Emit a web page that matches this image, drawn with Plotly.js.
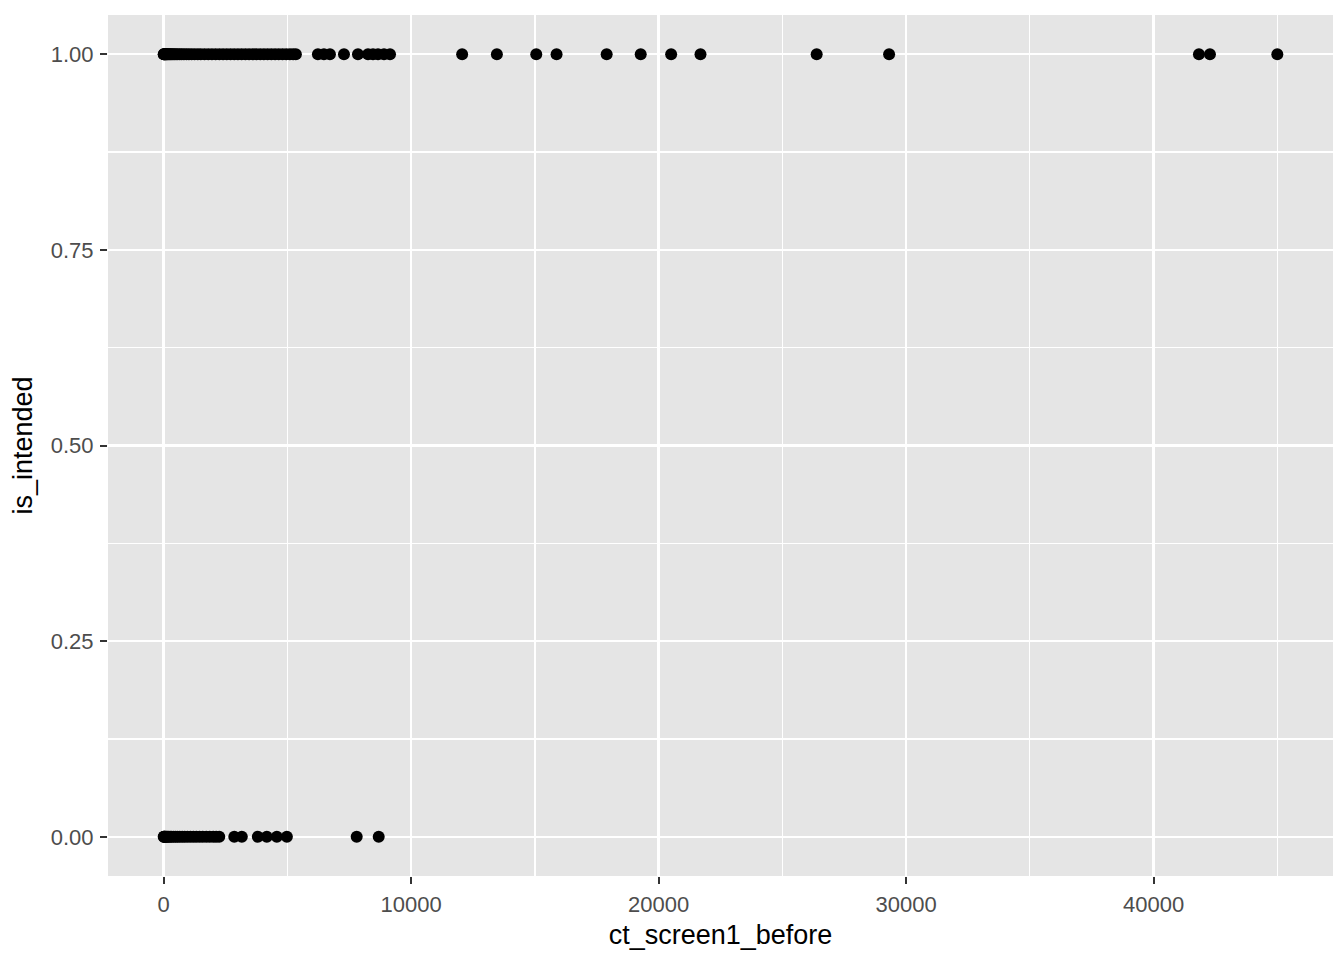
<!DOCTYPE html>
<html>
<head>
<meta charset="utf-8">
<script src="https://cdn.plot.ly/plotly-3.0.1.min.js"></script>
<style>
html,body{margin:0;padding:0;background:#fff;}
#chart{width:1344px;height:960px;}
</style>
</head>
<body>
<div id="chart"></div>
<script>
// ct_screen1_before values for rows with is_intended = 1
const ctIntended = [
  0,10,25,40,60,80,100,130,160,200,240,280,330,380,440,500,570,650,730,820,920,
  1020,1130,1250,1380,1500,1650,1800,1950,2100,2250,2400,2550,2700,2850,3000,
  3150,3300,3450,3600,3750,3900,4050,4200,4350,4500,4650,4800,4950,5100,5230,5342,
  6232,6475,6718,7285,7851,8256,8458,8661,8903,9146,
  12060,13464,15055,15876,17900,19276,20506,21692,26386,29312,
  41833,42278,45000
];
// ct_screen1_before values for rows with is_intended = 0
const ctNotIntended = [
  0,15,30,50,80,110,150,200,260,320,400,480,560,650,750,850,960,1080,1200,1320,
  1450,1580,1720,1860,2000,2120,2246,
  2853,3157,3804,4168,4573,4978,7799,8689
];
const isIntendedLevels = [1, 0];
const xTickVals = [0, 10000, 20000, 30000, 40000];
const xTickText = ["0", "10000", "20000", "30000", "40000"];
const yTickVals = [0, 0.25, 0.5, 0.75, 1];
const yTickText = ["0.00", "0.25", "0.50", "0.75", "1.00"];

const allX = ctIntended.concat(ctNotIntended);
const ys = ctIntended.map(() => isIntendedLevels[0]).concat(ctNotIntended.map(() => isIntendedLevels[1]));

const xmin = Math.min(...allX), xmax = Math.max(...allX);
const xpad = (xmax - xmin) * 0.05;
const ypad = 0.05;

const trace = {
  type: 'scatter', mode: 'markers',
  x: allX, y: ys,
  marker: {color: '#000000', size: 12, line: {width: 0}},
  hoverinfo: 'x+y'
};

const axisFont = {family: 'Liberation Sans, Arial, sans-serif', size: 22, color: '#4d4d4d'};
const titleFont = {family: 'Liberation Sans, Arial, sans-serif', size: 27, color: '#000000'};

const layout = {
  width: 1344, height: 960,
  margin: {l: 108, r: 11, t: 15, b: 84},
  paper_bgcolor: '#ffffff',
  plot_bgcolor: '#e5e5e5',
  showlegend: false,
  xaxis: {
    range: [xmin - xpad, xmax + xpad],
    tickmode: 'array', tickvals: xTickVals, ticktext: xTickText,
    ticks: 'outside', ticklen: 7, tickwidth: 2, tickcolor: '#333333',
    tickfont: axisFont, ticklabelstandoff: 2,
    showgrid: true, gridcolor: '#ffffff', gridwidth: 2.6,
    minor: {tickmode: 'array', tickvals: [5000, 15000, 25000, 35000, 45000], showgrid: true, gridcolor: '#ffffff', gridwidth: 1.3, ticks: ''},
    zeroline: false, showline: false,
    title: {text: 'ct_screen1_before', font: titleFont, standoff: 8}
  },
  yaxis: {
    range: [0 - ypad, 1 + ypad],
    tickmode: 'array', tickvals: yTickVals, ticktext: yTickText,
    ticks: 'outside', ticklen: 7, tickwidth: 2, tickcolor: '#333333',
    tickfont: axisFont, ticklabelstandoff: 2,
    showgrid: true, gridcolor: '#ffffff', gridwidth: 2.6,
    minor: {tickmode: 'array', tickvals: [0.125, 0.375, 0.625, 0.875], showgrid: true, gridcolor: '#ffffff', gridwidth: 1.3, ticks: ''},
    zeroline: false, showline: false,
    title: {text: 'is_intended', font: titleFont, standoff: 10}
  }
};

Plotly.newPlot('chart', [trace], layout, {displayModeBar: false, staticPlot: true});
</script>
</body>
</html>
